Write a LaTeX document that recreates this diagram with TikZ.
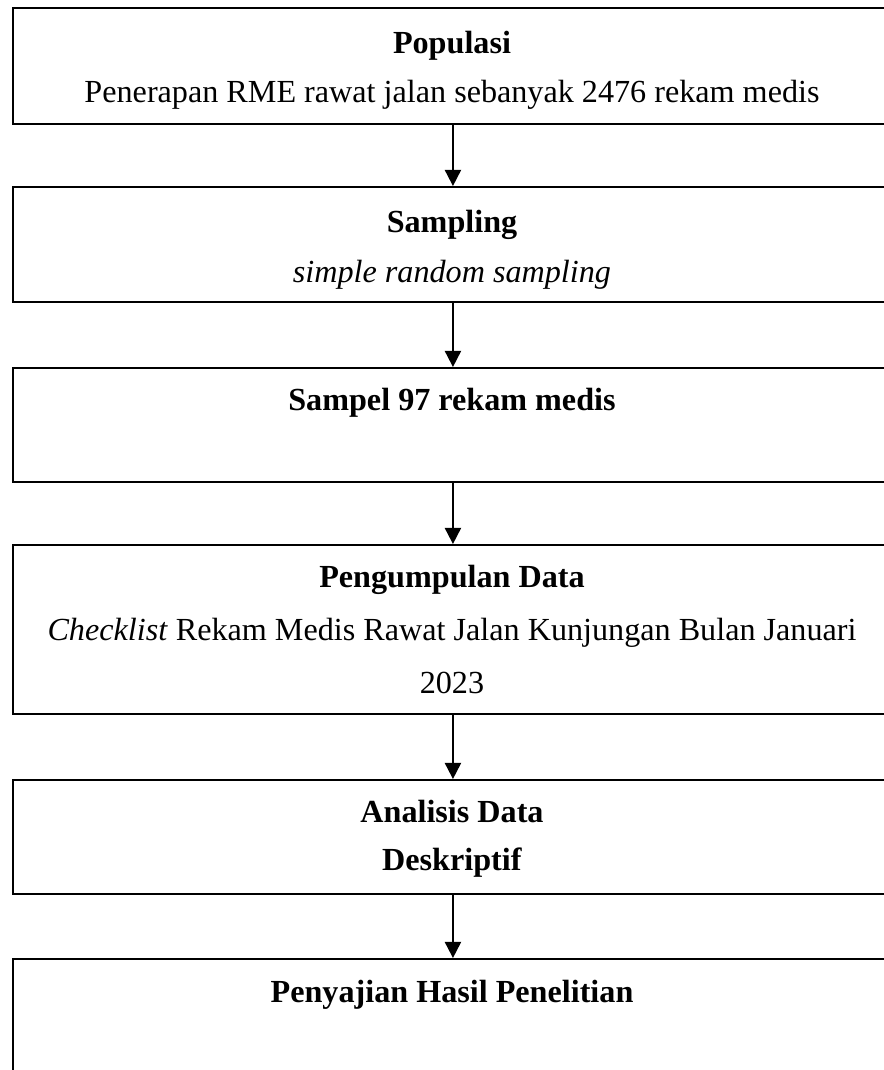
\documentclass[tikz,border=0pt]{standalone}
\usepackage{fontspec}
\setmainfont{Liberation Serif}
\usetikzlibrary{arrows.meta}
\tikzset{
  stage/.style={draw, line width=0.7pt, anchor=north west, minimum width=325.6pt,
    minimum height=#1, inner sep=0pt},
  label/.style={anchor=base, inner sep=0pt, font=\fontsize{11.9}{14}\selectfont},
  flow/.style={line width=0.7pt, -{Triangle[width=6pt,length=6pt]}}
}

\begin{document}
\begin{tikzpicture}[x=0.37pt, y=-0.37pt]
		\useasboundingbox (0,0) rectangle (884,1070);
		\clip (0,0) rectangle (884,1070);
		% stages
		\node[stage=42.9pt] (pop) at (12,7) {};
		\node[stage=42.5pt] (samp) at (12,186) {};
		\node[stage=42.2pt] (sampel) at (12,367) {};
		\node[stage=62.5pt] (kumpul) at (12,544) {};
		\node[stage=42.2pt] (analisis) at (12,779) {};
		\node[stage=50pt] (saji) at (12,958) {};
		%
		\draw[flow] (pop.south) -- (samp.north);
		\draw[flow] (samp.south) -- (sampel.north);
		\draw[flow] (sampel.south) -- (kumpul.north);
		\draw[flow] (kumpul.south) -- (analisis.north);
		\draw[flow] (analisis.south) -- (saji.north);
		%
		\node[label] (popA) at (452,53) {\textbf{Populasi}};
		\node[label] (popB) at (452,102) {Penerapan RME rawat jalan sebanyak 2476 rekam medis};
		\node[label] (sampA) at (452,232) {\textbf{Sampling}};
		\node[label] (sampB) at (452,282) {\textit{simple random sampling}};
		\node[label] (sampelA) at (452,410) {\textbf{Sampel 97 rekam medis}};
		\node[label] (kumpulA) at (452,587) {\textbf{Pengumpulan Data}};
		\node[label] (kumpulB) at (452,640) {\textit{Checklist} Rekam Medis Rawat Jalan Kunjungan Bulan Januari};
		\node[label] (kumpulC) at (452,693) {2023};
		\node[label] (analisisA) at (452,822) {\textbf{Analisis Data}};
		\node[label] (analisisB) at (452,870) {\textbf{Deskriptif}};
		\node[label] (sajiA) at (452,1002) {\textbf{Penyajian Hasil Penelitian}};
	\end{tikzpicture}
\end{document}
